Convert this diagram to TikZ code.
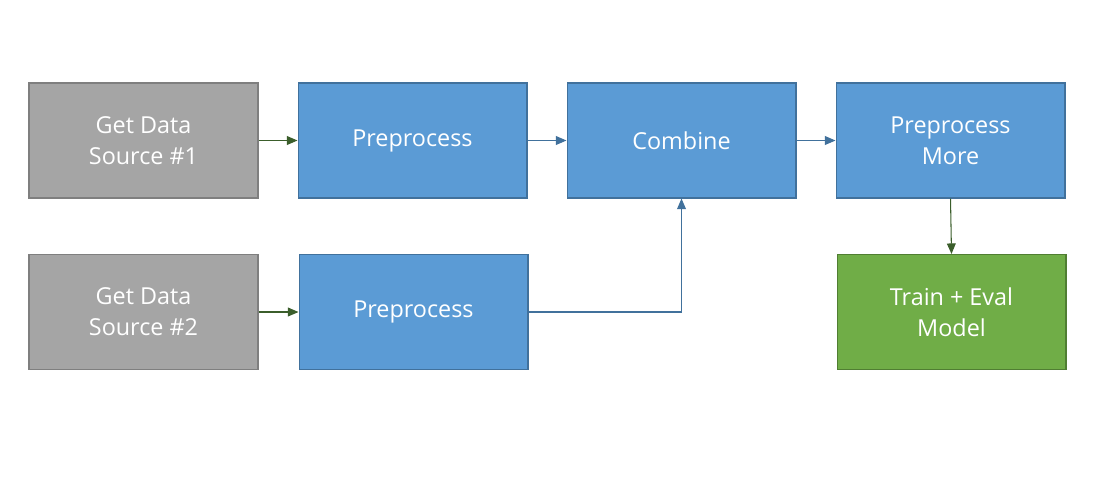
\documentclass[tikz,border=0pt]{standalone}
\usepackage{fontspec}
\setmainfont{Open Sans}
\usetikzlibrary{arrows.meta,positioning}
\definecolor{srcgray}{HTML}{A5A5A5}
\definecolor{srcedge}{HTML}{7F7F7F}
\definecolor{stepblue}{HTML}{5B9BD5}
\definecolor{blueedge}{HTML}{41719C}
\definecolor{trainfill}{HTML}{70AD47}
\definecolor{trainedge}{HTML}{507E32}
\definecolor{darkgreen}{HTML}{3B5E2B}
\tikzstyle{box} = [rectangle, minimum width=4.58cm, minimum height=2.3cm, align=center, text=white, line width=0.6pt, font=\fontsize{13.3}{17.8}\selectfont]
\tikzstyle{source} = [box, fill=srcgray, draw=srcedge]
\tikzstyle{stage} = [box, fill=stepblue, draw=blueedge]
\tikzstyle{train} = [box, fill=trainfill, draw=trainedge]
\tikzstyle{garrow} = [line width=0.6pt, draw=darkgreen, -{Triangle[length=6pt,width=5pt]}]
\tikzstyle{barrow} = [line width=0.6pt, draw=blueedge, -{Triangle[length=6pt,width=5pt]}]

\begin{document}
\begin{tikzpicture}[x=0.02cm, y=-0.02cm]
\useasboundingbox (0,0) rectangle (1098,478);
% top row
\node[source] (src1) at (143.5,140.5) {Get Data\\Source \#1};
\node[stage] (pre1) at (412.5,140.5) {Preprocess};
\node[stage] (comb) at (681.5,140.5) {Combine};
\node[stage] (more) at (950.5,140.5) {Preprocess\\More};
% bottom row
\node[source] (src2) at (143.5,312) {Get Data\\Source \#2};
\node[stage] (pre2) at (413.5,312) {Preprocess};
\node[train] (train) at (951.5,312) {Train + Eval\\Model};
% connectors
\draw[garrow] (src1) -- (pre1);
\draw[barrow] (pre1) -- (comb);
\draw[barrow] (comb) -- (more);
\draw[garrow] (src2) -- (pre2);
\draw[barrow] (pre2.east) -| (comb.south);
\draw[garrow] (more.south) -- (train.north);
\end{tikzpicture}
\end{document}
